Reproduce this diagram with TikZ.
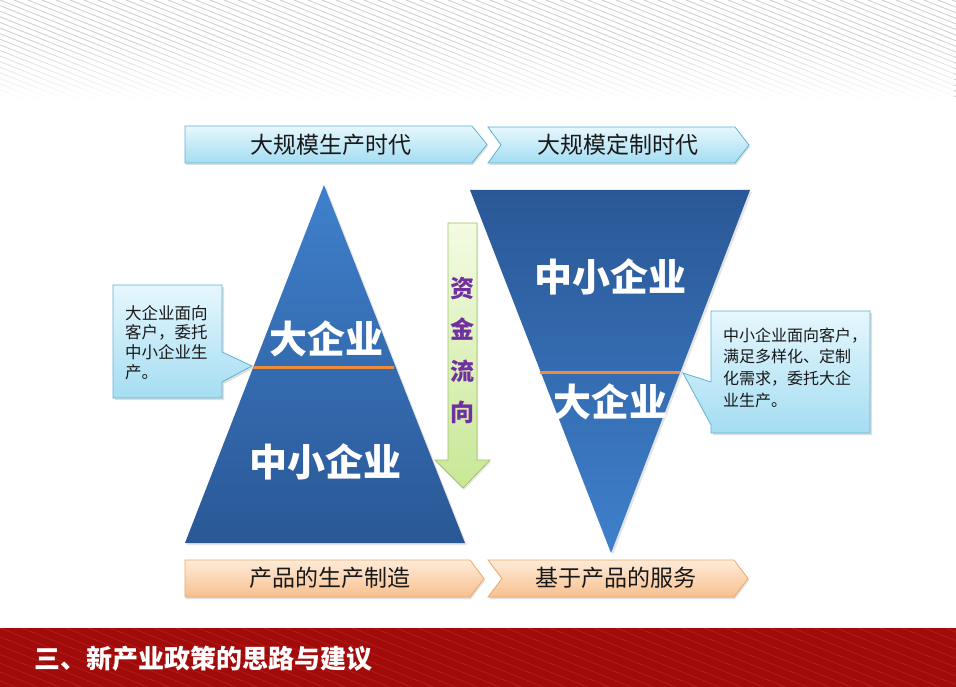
\documentclass[tikz,border=0pt]{standalone}
\usepackage{fontspec}
\setmainfont{Noto Sans CJK SC}
\usetikzlibrary{shadows,fadings}
\definecolor{cyanTop}{HTML}{E6F7FD}
\definecolor{cyanBot}{HTML}{A4DDF2}
\definecolor{cyanLine}{HTML}{62B2D2}
\definecolor{orTop}{HTML}{FEEBD9}
\definecolor{orBot}{HTML}{F8C08E}
\definecolor{orLine}{HTML}{E9A96A}
\definecolor{blueLight}{HTML}{3F80CC}
\definecolor{blueDark}{HTML}{2A5896}
\definecolor{sepOrange}{HTML}{EC8C3C}
\definecolor{grTop}{HTML}{F3FBE3}
\definecolor{grBot}{HTML}{C8E796}
\definecolor{grLine}{HTML}{9DC56C}
\definecolor{purpleTxt}{HTML}{7030A0}
\definecolor{barRed}{HTML}{A30B0B}
\tikzset{
  stripe/.style={draw=black!20, line width=0.8pt},
  chevcyan/.style={top color=cyanTop, bottom color=cyanBot, draw=cyanLine, line width=0.8pt,
    drop shadow={opacity=0.25, shadow xshift=1pt, shadow yshift=-2pt}},
  chevorange/.style={top color=orTop, bottom color=orBot, draw=orLine, line width=0.8pt,
    drop shadow={opacity=0.25, shadow xshift=1pt, shadow yshift=-2pt}},
  callout/.style={top color=cyanTop, bottom color=cyanBot, draw=cyanLine, line width=0.8pt,
    drop shadow={opacity=0.25, shadow xshift=2pt, shadow yshift=-2pt}},
  tri/.style={drop shadow={opacity=0.2, shadow xshift=2pt, shadow yshift=-2pt}},
  chevtext/.style={text=black!90, font=\fontsize{23}{26}\selectfont, inner sep=0pt},
  bigwhite/.style={text=white, font=\fontsize{38}{40}\selectfont\bfseries, inner sep=0pt},
  calltext/.style={text=black!90, align=left, inner sep=0pt},
  sepline/.style={draw=sepOrange, line width=3pt},
}
\begin{document}
\begin{tikzpicture}[x=1pt,y=-1pt]
\useasboundingbox (0,0) rectangle (956,687);
\fill[white] (0,0) rectangle (956,687);
% top stripes
\begin{scope}
  \clip (0,0) rectangle (956,100);
  \foreach \i in {-50,...,70} { \draw[stripe] (\i*14,0) -- ++(300,120); }
\end{scope}
\fill[white, path fading=north] (0,35) rectangle (956,101);

% top chevrons
\path[chevcyan] (185,126) -- (472,126) -- (487,144.5) -- (472,163) -- (185,163) -- cycle;
\path[chevcyan] (488,127) -- (735,127) -- (749,145) -- (735,163) -- (488,163) -- (501,145) -- cycle;
\node[chevtext] (t1) at (331,145) {大规模生产时代};
\node[chevtext] (t2) at (618,145) {大规模定制时代};

% bottom chevrons
\path[chevorange] (185,560) -- (470,560) -- (484,578.5) -- (470,597) -- (185,597) -- cycle;
\path[chevorange] (488,560) -- (734,560) -- (748,578.5) -- (734,597) -- (488,597) -- (502,578.5) -- cycle;
\node[chevtext] (b1) at (330,578) {产品的生产制造};
\node[chevtext] (b2) at (616,578) {基于产品的服务};

% left triangle
\path[tri, top color=blueLight, bottom color=blueDark] (324,185) -- (465,543) -- (185,543) -- cycle;
\coordinate (l1) at (253,367);
\coordinate (l2) at (394,367);
\draw[sepline] (l1) -- (l2);
\node[bigwhite] (lbig) at (326,339) {大企业};
\node[bigwhite] (lsmall) at (325,462) {中小企业};

% right inverted triangle
\path[tri, top color=blueDark, bottom color=blueLight] (470,190) -- (750,190) -- (611,553) -- cycle;
\coordinate (r1) at (540,372);
\coordinate (r2) at (680,372);
\draw[sepline] (r1) -- (r2);
\node[bigwhite] (rsmall) at (610,277) {中小企业};
\node[bigwhite] (rbig) at (610,402) {大企业};

% down arrow
\path[top color=grTop, bottom color=grBot, draw=grLine, line width=0.8pt,
      drop shadow={opacity=0.2, shadow xshift=1pt, shadow yshift=-2pt}]
  (448,223) -- (477,223) -- (477,460) -- (490,460) -- (463,488) -- (435,460) -- (448,460) -- cycle;
\node[text=purpleTxt, font=\fontsize{24}{41.5}\selectfont\bfseries, align=center, inner sep=0pt]
  (flow) at (462,350.5) {资\\金\\流\\向};

% left callout
\path[callout] (113,285) -- (222,285) -- (222,352) -- (252,366) -- (222,382) -- (222,398) -- (113,398) -- cycle;
\node[calltext, font=\fontsize{16.5}{19.7}\selectfont, anchor=west] (lc) at (125,342.5)
  {大企业面向\\客户，委托\\中小企业生\\产。};

% right callout
\path[callout] (711,311) -- (870,311) -- (870,433) -- (711,433) -- (711,425) -- (683,373) -- (711,382) -- cycle;
\node[calltext, font=\fontsize{16}{21.7}\selectfont, anchor=west] (rc) at (723,367.5)
  {中小企业面向客户，\\满足多样化、定制\\化需求，委托大企\\业生产。};

% bottom red bar
\fill[barRed] (0,628) rectangle (956,687);
\begin{scope}
  \clip (0,628) rectangle (956,687);
  \foreach \i in {-10,...,50} { \draw[white, opacity=0.07, line width=1pt] (\i*22,628) -- ++(150,60); }
\end{scope}
\node[text=white, font=\fontsize{26}{30}\selectfont\bfseries, anchor=west, inner sep=0pt] (title) at (34,659)
  {三、新产业政策的思路与建议};
\end{tikzpicture}
\end{document}
